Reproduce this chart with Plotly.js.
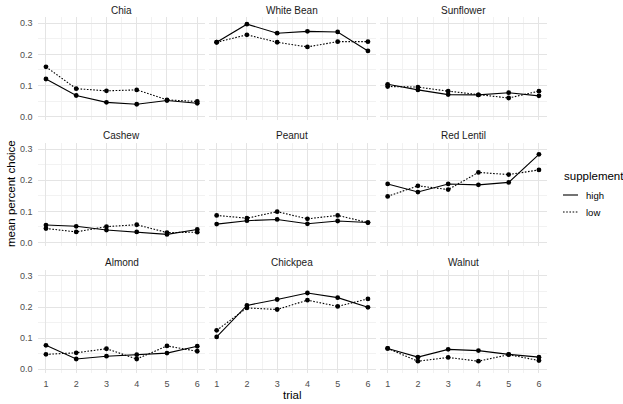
<!DOCTYPE html>
<html>
<head>
<meta charset="utf-8">
<script src="https://cdn.plot.ly/plotly-3.0.1.min.js"></script>
<style>html,body{margin:0;padding:0;background:#fff;}#chart{width:623px;height:404px;}</style>
</head>
<body>
<div id="chart"></div>
<script>
const trials = [1, 2, 3, 4, 5, 6];
const foods = ['Chia', 'White Bean', 'Sunflower', 'Cashew', 'Peanut', 'Red Lentil', 'Almond', 'Chickpea', 'Walnut'];
const groups = ['high', 'low'];

const chiaHigh = [0.121, 0.068, 0.046, 0.040, 0.052, 0.043];
const chiaLow = [0.160, 0.090, 0.083, 0.086, 0.054, 0.049];
const whiteBeanHigh = [0.239, 0.297, 0.268, 0.274, 0.272, 0.211];
const whiteBeanLow = [0.239, 0.263, 0.239, 0.224, 0.241, 0.241];
const sunflowerHigh = [0.104, 0.086, 0.071, 0.070, 0.077, 0.067];
const sunflowerLow = [0.097, 0.095, 0.082, 0.070, 0.060, 0.082];
const cashewHigh = [0.056, 0.052, 0.040, 0.034, 0.026, 0.042];
const cashewLow = [0.045, 0.034, 0.051, 0.057, 0.032, 0.033];
const peanutHigh = [0.059, 0.070, 0.074, 0.060, 0.069, 0.064];
const peanutLow = [0.087, 0.078, 0.099, 0.076, 0.087, 0.064];
const redLentilHigh = [0.188, 0.162, 0.188, 0.185, 0.193, 0.283];
const redLentilLow = [0.148, 0.182, 0.170, 0.225, 0.218, 0.233];
const almondHigh = [0.077, 0.033, 0.042, 0.047, 0.052, 0.074];
const almondLow = [0.048, 0.053, 0.066, 0.033, 0.075, 0.058];
const chickpeaHigh = [0.104, 0.205, 0.224, 0.245, 0.230, 0.199];
const chickpeaLow = [0.125, 0.197, 0.192, 0.222, 0.202, 0.226];
const walnutHigh = [0.067, 0.039, 0.064, 0.060, 0.048, 0.039];
const walnutLow = [0.067, 0.026, 0.038, 0.026, 0.047, 0.028];

const yTickVals = [0, 0.1, 0.2, 0.3];
const yTickText = ['0.0', '0.1', '0.2', '0.3'];

const highSeries = [chiaHigh, whiteBeanHigh, sunflowerHigh, cashewHigh, peanutHigh, redLentilHigh, almondHigh, chickpeaHigh, walnutHigh];
const lowSeries = [chiaLow, whiteBeanLow, sunflowerLow, cashewLow, peanutLow, redLentilLow, almondLow, chickpeaLow, walnutLow];

const W = 623, H = 404;
const colPx = [[38.4, 204.8], [209.1, 375.5], [380.1, 546.5]];
const rowZero = [116.7, 242.5, 369.3];
const pxPerUnit = 311.5;
const yMin = -0.0106, yMax = 0.320;
const DOT = '1.6px,1.6px';

const FONT = 'Liberation Sans, Arial, sans-serif';
const traces = [];
const layout = {
  width: W, height: H,
  margin: {l: 0, r: 0, t: 0, b: 0},
  paper_bgcolor: '#ffffff', plot_bgcolor: 'rgba(0,0,0,0)',
  showlegend: false,
  font: {family: FONT, color: '#4d4d4d'},
  annotations: [], shapes: []
};

foods.forEach((food, i) => {
  const r = Math.floor(i / 3), c = i % 3;
  const n = i + 1;
  const xa = 'x' + (n === 1 ? '' : n), ya = 'y' + (n === 1 ? '' : n);
  const top = rowZero[r] - yMax * pxPerUnit;
  const bot = rowZero[r] - yMin * pxPerUnit;
  layout['xaxis' + (n === 1 ? '' : n)] = {
    domain: [colPx[c][0] / W, colPx[c][1] / W], anchor: ya,
    range: [0.75, 6.25], tickmode: 'array', tickvals: trials, ticktext: trials.map(String),
    showticklabels: r === 2, ticks: '', ticklabelstandoff: 4,
    showgrid: true, gridcolor: '#e4e4e4', gridwidth: 1, zeroline: false, showline: false,
    minor: {tickmode: 'array', tickvals: [1.5, 2.5, 3.5, 4.5, 5.5], showgrid: true, gridcolor: '#f2f2f2', gridwidth: 1},
    tickfont: {size: 9, color: '#4d4d4d', family: FONT}, fixedrange: true
  };
  layout['yaxis' + (n === 1 ? '' : n)] = {
    domain: [1 - bot / H, 1 - top / H], anchor: xa,
    range: [yMin, yMax], tickmode: 'array', tickvals: yTickVals, ticktext: yTickText,
    showticklabels: c === 0, ticks: '', ticklabelstandoff: 5,
    showgrid: true, gridcolor: '#e4e4e4', gridwidth: 1, zeroline: false, showline: false,
    minor: {tickmode: 'array', tickvals: [0.05, 0.15, 0.25], showgrid: true, gridcolor: '#f2f2f2', gridwidth: 1},
    tickfont: {size: 9, color: '#4d4d4d', family: FONT}, fixedrange: true
  };
  [highSeries[i], lowSeries[i]].forEach((vals, g) => {
    traces.push({
      type: 'scatter', mode: 'lines', x: trials, y: vals, xaxis: xa, yaxis: ya,
      name: groups[g], line: {color: '#000000', width: 1.1, dash: g === 0 ? 'solid' : DOT},
      hoverinfo: 'skip'
    });
    traces.push({
      type: 'scatter', mode: 'markers', x: trials, y: vals, xaxis: xa, yaxis: ya,
      name: groups[g], marker: {color: '#000000', size: 4.8},
      hoverinfo: 'skip'
    });
  });
  layout.annotations.push({
    text: food, xref: 'paper', yref: 'paper',
    x: (colPx[c][0] + colPx[c][1]) / 2 / W, y: 1 - (top - 7) / H,
    xanchor: 'center', yanchor: 'middle', showarrow: false,
    font: {size: 10, color: '#1a1a1a', family: FONT}
  });
});

// axis titles
layout.annotations.push({
  text: 'trial', xref: 'paper', yref: 'paper', x: 292.5 / W, y: 1 - 395 / H,
  xanchor: 'center', yanchor: 'middle', showarrow: false,
  font: {size: 11.5, color: '#000000', family: FONT}
});
layout.annotations.push({
  text: 'mean percent choice', xref: 'paper', yref: 'paper', x: 11 / W, y: 1 - 194 / H,
  xanchor: 'center', yanchor: 'middle', showarrow: false, textangle: -90,
  font: {size: 11.5, color: '#000000', family: FONT}
});

// legend (drawn manually)
layout.annotations.push({
  text: 'supplement', xref: 'paper', yref: 'paper', x: 562 / W, y: 1 - 176 / H,
  xanchor: 'left', yanchor: 'middle', showarrow: false,
  font: {size: 11.5, color: '#000000', family: FONT}
});
groups.forEach((g, k) => {
  const yy = [195, 212][k];
  layout.shapes.push({
    type: 'line', xref: 'paper', yref: 'paper',
    x0: 563 / W, x1: 578 / W, y0: 1 - yy / H, y1: 1 - yy / H,
    line: {color: '#000000', width: 1.1, dash: k === 0 ? 'solid' : DOT}
  });
  layout.annotations.push({
    text: g, xref: 'paper', yref: 'paper', x: 584 / W, y: 1 - yy / H,
    xanchor: 'left', yanchor: 'middle', showarrow: false,
    font: {size: 9.5, color: '#000000', family: FONT}
  });
});

Plotly.newPlot('chart', traces, layout, {staticPlot: true, displayModeBar: false});
</script>
</body>
</html>
